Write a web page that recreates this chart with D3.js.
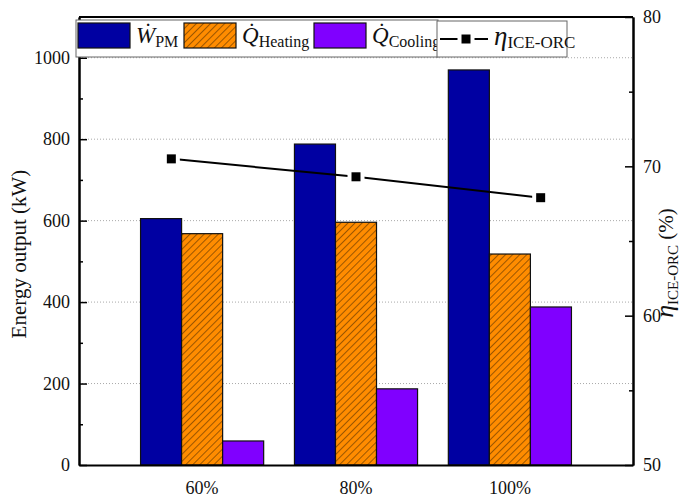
<!DOCTYPE html>
<html>
  <head>
    <script type="text/javascript" src="https://cdn.jsdelivr.net/npm/d3@7"></script>
    <style>
      body { margin: 0; background: #fff; }
      text { font-family: "Liberation Serif", "Times New Roman", serif; fill: #111; }
    </style>
  </head>
  <body>
    <script type="text/javascript">
      var w = 683;
      var h = 497;
      var margin = {top: 17, right: 50, bottom: 32, left: 79};

      // data
      var categories = ["60%", "80%", "100%"];
      var series = ["W", "QH", "QC"];
      var wPM = [605, 788, 970];
      var qHeating = [568, 596, 518];
      var qCooling = [59, 187, 388];
      var eta = [70.5, 69.3, 67.9];
      // the line's points sit in category-index units, a bit off the group centres
      var etaPos = [-0.2, 1, 2.2];
      var leftTicks = [0, 200, 400, 600, 800, 1000];
      var leftMinor = [100, 300, 500, 700, 900];
      var rightTicks = [50, 60, 70, 80];
      var rightMinor = [55, 65, 75];

      var colors = {W: "#0000A2", QH: "url(#hatch)", QC: "#8000FF"};
      var values = {W: wPM, QH: qHeating, QC: qCooling};

      var x0 = margin.left, x1 = w - margin.right;
      var y0 = h - margin.bottom, y1 = margin.top;

      var svg = d3.select("body").append("svg")
        .attr("width", w)
        .attr("height", h);

      // hatch for the heating bars
      var pat = svg.append("defs").append("pattern")
        .attr("id", "hatch")
        .attr("patternUnits", "userSpaceOnUse")
        .attr("width", 5).attr("height", 5)
        .attr("patternTransform", "rotate(45)");
      pat.append("rect").attr("width", 5).attr("height", 5).attr("fill", "#FF8C00");
      pat.append("line").attr("x1", 0).attr("y1", 0).attr("x2", 0).attr("y2", 5)
        .attr("stroke", "#3a2000").attr("stroke-width", 1);

      var xScale = d3.scaleBand()
        .domain(categories)
        .range([x0, x1])
        .paddingInner(0.2)
        .paddingOuter(0.4);
      var xSub = d3.scaleBand()
        .domain(series)
        .range([0, xScale.bandwidth()]);
      var xIdx = d3.scaleLinear()
        .domain([0, 2])
        .range([xScale(categories[0]) + xScale.bandwidth() / 2,
                xScale(categories[2]) + xScale.bandwidth() / 2]);
      var yScale = d3.scaleLinear().domain([0, 1100]).range([y0, y1]);
      var yRight = d3.scaleLinear().domain([50, 80]).range([y0, y1]);

      // dotted grid
      svg.append("g").selectAll("line")
        .data(leftTicks.filter(d => d > 0))
        .enter().append("line")
        .attr("x1", x0).attr("x2", x1)
        .attr("y1", d => yScale(d)).attr("y2", d => yScale(d))
        .attr("stroke", "#aaa").attr("stroke-width", 1)
        .attr("stroke-dasharray", "1,2");

      // bars
      var groups = svg.append("g").selectAll("g")
        .data(categories)
        .enter().append("g")
        .attr("transform", d => "translate(" + xScale(d) + ",0)");
      groups.selectAll("rect")
        .data((d, i) => series.map(s => ({s: s, v: values[s][i]})))
        .enter().append("rect")
        .attr("x", d => xSub(d.s))
        .attr("width", xSub.bandwidth())
        .attr("y", d => yScale(d.v))
        .attr("height", d => y0 - yScale(d.v))
        .attr("fill", d => colors[d.s])
        .attr("stroke", "#111")
        .attr("stroke-width", 1.2);

      // efficiency line
      var pts = eta.map((v, i) => [xIdx(etaPos[i]), yRight(v)]);
      svg.append("path")
        .attr("d", d3.line()(pts))
        .attr("fill", "none")
        .attr("stroke", "#000")
        .attr("stroke-width", 2);
      svg.append("g").selectAll("rect")
        .data(pts)
        .enter().append("rect")
        .attr("x", d => d[0] - 6.5).attr("y", d => d[1] - 6.5)
        .attr("width", 13).attr("height", 13)
        .attr("fill", "#000")
        .attr("stroke", "#fff").attr("stroke-width", 4);

      // axes
      var fmt = d3.format("d");
      svg.append("g")
        .attr("transform", "translate(" + x0 + ",0)")
        .call(d3.axisLeft(yScale).tickValues(leftTicks).tickFormat(fmt).tickSizeInner(-8).tickSizeOuter(0).tickPadding(9));
      svg.append("g")
        .attr("transform", "translate(" + x0 + ",0)")
        .call(d3.axisLeft(yScale).tickValues(leftMinor).tickSizeInner(-4).tickSizeOuter(0).tickFormat(""));
      svg.append("g")
        .attr("transform", "translate(" + x1 + ",0)")
        .call(d3.axisRight(yRight).tickValues(rightTicks).tickFormat(fmt).tickSizeInner(-8).tickSizeOuter(0).tickPadding(10));
      svg.append("g")
        .attr("transform", "translate(" + x1 + ",0)")
        .call(d3.axisRight(yRight).tickValues(rightMinor).tickSizeInner(-4).tickSizeOuter(0).tickFormat(""));
      svg.append("g")
        .attr("transform", "translate(0," + y0 + ")")
        .call(d3.axisBottom(xScale).tickSize(0).tickPadding(16));
      svg.append("line")
        .attr("x1", x0).attr("x2", x1).attr("y1", y1).attr("y2", y1)
        .attr("stroke", "#000").attr("stroke-width", 2);

      svg.selectAll(".domain").attr("stroke", "#000").attr("stroke-width", 2);
      svg.selectAll(".tick line").attr("stroke", "#000").attr("stroke-width", 1.5);
      svg.selectAll("g[font-family]").attr("font-family", "Liberation Serif, serif");
      svg.selectAll(".tick text")
        .attr("font-size", 18)
        .attr("fill", "#111");

      // axis titles
      svg.append("text")
        .attr("transform", "translate(26," + ((y0 + y1) / 2 + 13) + ") rotate(-90)")
        .attr("text-anchor", "middle")
        .attr("font-size", 21)
        .text("Energy output (kW)");
      var rt = svg.append("text")
        .attr("transform", "translate(673," + ((y0 + y1) / 2 + 22) + ") rotate(-90)")
        .attr("text-anchor", "middle");
      rt.append("tspan").attr("font-size", 26).attr("font-style", "italic").text("η");
      rt.append("tspan").attr("font-size", 15).attr("dy", 5).text("ICE-ORC");
      rt.append("tspan").attr("font-size", 21).attr("dy", -5).text(" (%)");

      // legends
      svg.append("rect")
        .attr("x", 76).attr("y", 20).attr("width", 362).attr("height", 37)
        .attr("fill", "#fff").attr("stroke", "#666").attr("stroke-width", 1);
      var legItems = [
        {s: "W", x: 78, sym: "W\u0307", sub: "PM"},
        {s: "QH", x: 184, sym: "Q\u0307", sub: "Heating"},
        {s: "QC", x: 314, sym: "Q\u0307", sub: "Cooling"}
      ];
      var leg = svg.append("g").selectAll("g")
        .data(legItems)
        .enter().append("g");
      leg.append("rect")
        .attr("x", d => d.x).attr("y", 23)
        .attr("width", 52).attr("height", 25)
        .attr("fill", d => colors[d.s])
        .attr("stroke", "#111").attr("stroke-width", 1.2);
      var lt = leg.append("text")
        .attr("x", d => d.x + 58).attr("y", 43)
        .attr("font-size", 23);
      lt.append("tspan").attr("font-style", "italic").text(d => d.sym);
      lt.append("tspan").attr("font-size", 16).attr("dy", 4).text(d => d.sub);

      svg.append("rect")
        .attr("x", 437).attr("y", 21).attr("width", 130).attr("height", 36)
        .attr("fill", "#fff").attr("stroke", "#666").attr("stroke-width", 1);
      svg.append("line")
        .attr("x1", 440).attr("x2", 488).attr("y1", 39).attr("y2", 39)
        .attr("stroke", "#000").attr("stroke-width", 2);
      svg.append("rect")
        .attr("x", 459.5).attr("y", 32.5).attr("width", 13).attr("height", 13)
        .attr("fill", "#000").attr("stroke", "#fff").attr("stroke-width", 4);
      var et = svg.append("text").attr("x", 494).attr("y", 45);
      et.append("tspan").attr("font-size", 27).attr("font-style", "italic").text("η");
      et.append("tspan").attr("font-size", 17).attr("dy", 3).text("ICE-ORC");
    </script>
  </body>
</html>
